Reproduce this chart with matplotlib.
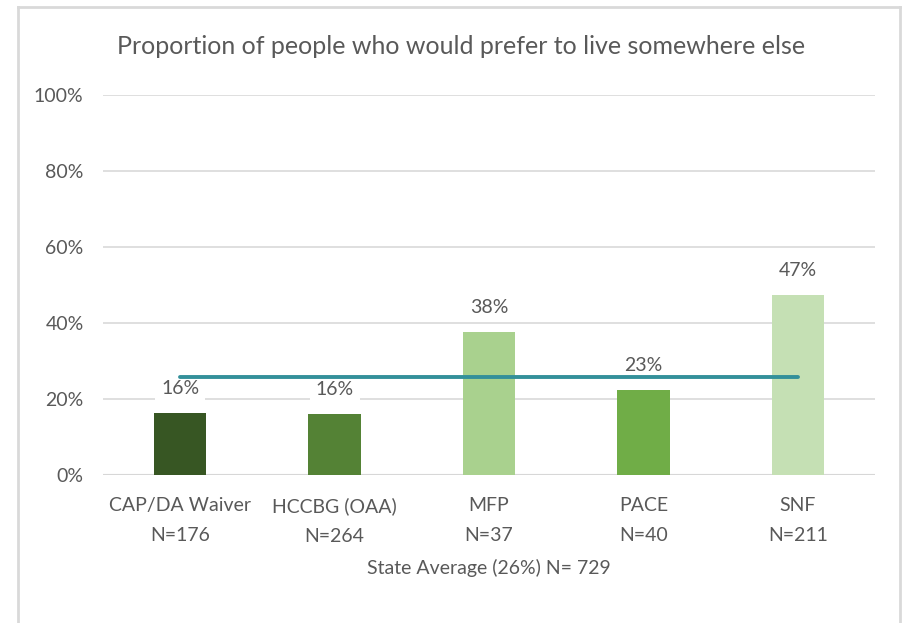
import matplotlib
matplotlib.use("Agg")
import matplotlib.pyplot as plt
from matplotlib.lines import Line2D

categories = ["CAP/DA Waiver", "HCCBG (OAA)", "MFP", "PACE", "SNF"]
counts = [176, 264, 37, 40, 211]
values = [16.4, 16.0, 37.6, 22.4, 47.3]
value_labels = ["16%", "16%", "38%", "23%", "47%"]
state_avg = 25.8
colors = ["#375623", "#548235", "#A9D18E", "#70AD47", "#C5E0B4"]

plt.rcParams['font.family'] = ['Lato', 'DejaVu Sans']
gray = "#595959"

fig = plt.figure(figsize=(9.05, 6.23), dpi=100)
ax = fig.add_axes([0.1138, 0.2376, 0.8531, 0.6099])

x = range(len(categories))
ax.bar(x, values, width=0.34, color=colors, zorder=2)
# state average line
ax.plot([0, len(categories) - 1], [state_avg] * 2, color="#33909A", lw=2.8,
        solid_capstyle="round", zorder=5)

for i, v in enumerate(values):
    ax.annotate(value_labels[i], (i, v), xytext=(0, 17.5), textcoords="offset points",
                ha="center", va="center", fontsize=14, color=gray, zorder=4,
                bbox=dict(boxstyle="square,pad=0.3", fc="white", ec="none"))

ax.set_xlim(-0.5, len(categories) - 0.5)
ax.set_ylim(0, 100)
ax.set_yticks(range(0, 101, 20))
ax.set_yticklabels([f"{t}%" for t in range(0, 101, 20)], fontsize=14, color=gray)
ax.set_xticks(list(x))
ax.set_xticklabels([f"{c}\nN={n}" for c, n in zip(categories, counts)],
                   fontsize=14, color=gray, linespacing=1.95)
ax.tick_params(axis="y", length=0, pad=14)
ax.tick_params(axis="x", length=0, pad=16)
ax.grid(axis="y", color="#D9D9D9", lw=1.2, zorder=0)
for s in ax.spines.values():
    s.set_visible(False)
ax.axhline(0, color="#D0D0D0", lw=1.5, zorder=1)
ax.set_xlabel("State Average (26%) N= 729", fontsize=14, color=gray, labelpad=10)
fig.text(0.51, 0.925, "Proportion of people who would prefer to live somewhere else",
         ha="center", va="center", fontsize=18, color=gray)

# chart frame (bottom edge is cut off)
fc = "#D9D9D9"
fig.add_artist(Line2D([0.0199, 0.0199], [0.0, 0.9888], color=fc, lw=2))
fig.add_artist(Line2D([0.0199, 0.9945], [0.9888, 0.9888], color=fc, lw=2))
fig.add_artist(Line2D([0.9945, 0.9945], [0.0, 0.9888], color=fc, lw=2))

fig.savefig("out.png", dpi=100)
